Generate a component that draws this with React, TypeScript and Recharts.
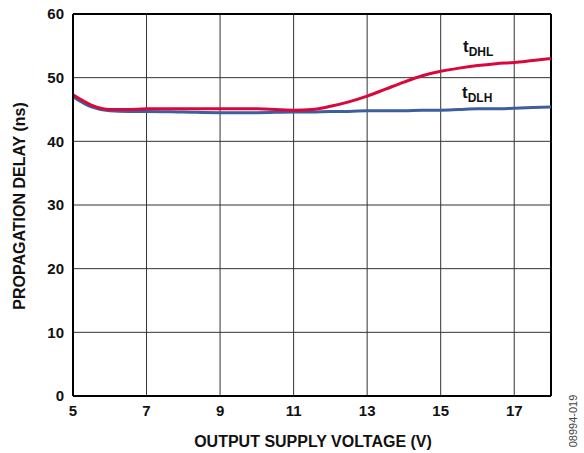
import React from "react";
import {
  LineChart,
  Line,
  XAxis,
  YAxis,
  CartesianGrid,
  ReferenceLine,
} from "recharts";

// supply voltage (V)
const voltage = [5, 5.5, 6, 6.5, 7, 8, 9, 10, 11, 11.5, 12, 12.5, 13, 13.5, 14, 14.5, 15, 15.5, 16, 16.5, 17, 17.5, 18];
// propagation delay (ns)
const tDHL = [47.3, 45.7, 45.0, 45.0, 45.1, 45.1, 45.1, 45.1, 44.9, 45.0, 45.5, 46.2, 47.1, 48.2, 49.3, 50.3, 51.0, 51.5, 51.9, 52.2, 52.4, 52.7, 53.0];
const tDLH = [47.0, 45.4, 44.8, 44.7, 44.7, 44.6, 44.5, 44.5, 44.6, 44.6, 44.7, 44.7, 44.8, 44.8, 44.8, 44.9, 44.9, 45.0, 45.1, 45.1, 45.2, 45.3, 45.4];

const xTicks = [5, 7, 9, 11, 13, 15, 17];
const yTicks = [0, 10, 20, 30, 40, 50, 60];

const data = voltage.map((v, i) => ({ v, dhl: tDHL[i], dlh: tDLH[i] }));

const font = "'Liberation Sans', Arial, sans-serif";

export default function App() {
  return (
    <div style={{ position: "absolute", left: 0, top: 0, width: 584, height: 453, background: "#fff" }}>
      <LineChart
        width={584}
        height={453}
        data={data}
        margin={{ top: 14, right: 33, bottom: 27, left: 13 }}
      >
        <CartesianGrid stroke="#333" strokeWidth={1} />
        <XAxis
          dataKey="v"
          type="number"
          domain={[5, 18]}
          ticks={xTicks}
          height={30}
          tickLine={false}
          tickSize={0}
          tickMargin={9}
          axisLine={{ stroke: "#000", strokeWidth: 2 }}
          tick={{ fill: "#111", fontSize: 15, fontWeight: "bold", fontFamily: font }}
        />
        <YAxis
          type="number"
          domain={[0, 60]}
          ticks={yTicks}
          width={60}
          tickLine={false}
          tickSize={0}
          tickMargin={9}
          axisLine={{ stroke: "#000", strokeWidth: 2 }}
          tick={{ fill: "#111", fontSize: 15, fontWeight: "bold", fontFamily: font }}
        />
        <ReferenceLine x={18} stroke="#000" strokeWidth={2} />
        <ReferenceLine y={60} stroke="#000" strokeWidth={2} />
        <Line
          type="monotone"
          dataKey="dlh"
          stroke="#3d5f9e"
          strokeWidth={3}
          dot={false}
          isAnimationActive={false}
        />
        <Line
          type="monotone"
          dataKey="dhl"
          stroke="#d9083c"
          strokeWidth={3}
          dot={false}
          isAnimationActive={false}
        />
        <text x={463} y={52} fontFamily={font} fontWeight="bold" fontSize={17} fill="#111">
          t<tspan fontSize={12} dy={4}>DHL</tspan>
        </text>
        <text x={462} y={98} fontFamily={font} fontWeight="bold" fontSize={17} fill="#111">
          t<tspan fontSize={12} dy={4}>DLH</tspan>
        </text>
        <text
          x={313}
          y={447}
          textAnchor="middle"
          fontFamily={font}
          fontWeight="bold"
          fontSize={16}
          fill="#111"
        >
          OUTPUT SUPPLY VOLTAGE (V)
        </text>
        <text
          x={25}
          y={206}
          textAnchor="middle"
          transform="rotate(-90 25 206)"
          fontFamily={font}
          fontWeight="bold"
          fontSize={16}
          fill="#111"
        >
          PROPAGATION DELAY (ns)
        </text>
        <text
          x={577}
          y={421}
          textAnchor="middle"
          transform="rotate(-90 577 421)"
          fontFamily={font}
          fontSize={11}
          fill="#444"
        >
          08994-019
        </text>
      </LineChart>
    </div>
  );
}
